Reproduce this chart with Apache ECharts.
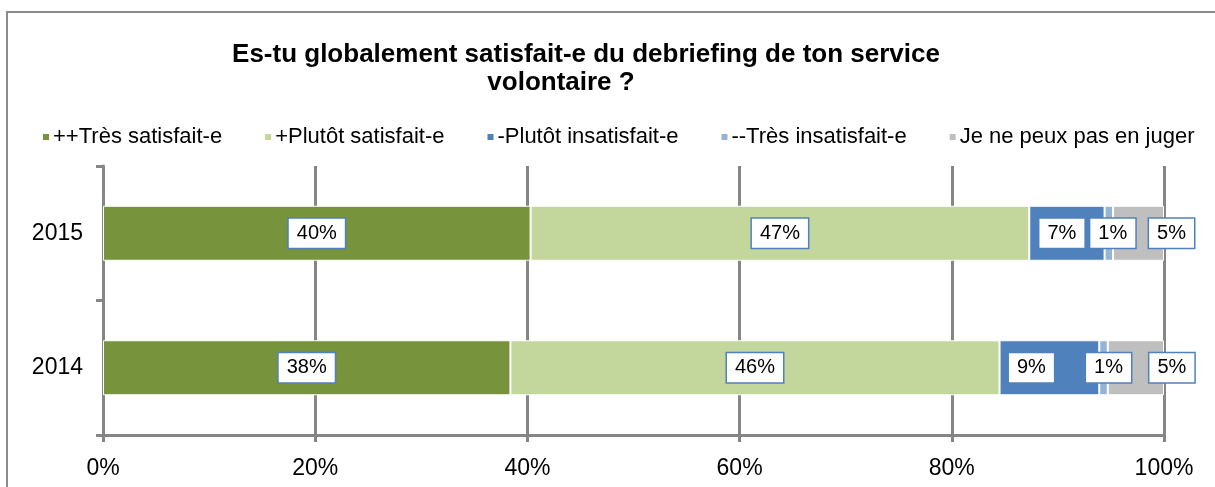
<!DOCTYPE html>
<html>
<head>
<meta charset="utf-8">
<script src="https://cdn.jsdelivr.net/npm/echarts@6/dist/echarts.min.js"></script>
<style>html,body{margin:0;padding:0;background:#fff;}#c{width:1215px;height:487px;}</style>
</head>
<body>
<div id="c"></div>
<script>
var titleLine1 = 'Es-tu globalement satisfait-e du debriefing de ton service';
var titleLine2 = 'volontaire ?';
var categories = ['2015', '2014'];
var seriesNames = ['++Très satisfait-e', '+Plutôt satisfait-e', '-Plutôt insatisfait-e', '--Très insatisfait-e', 'Je ne peux pas en juger'];
var tresSatisfait = [40.3, 38.4];
var plutotSatisfait = [47.0, 46.1];
var plutotInsatisfait = [7.1, 9.4];
var tresInsatisfait = [0.8, 0.8];
var nePeuxPasJuger = [4.8, 5.3];
var xTicks = [0, 20, 40, 60, 80, 100];

var allValues = [tresSatisfait, plutotSatisfait, plutotInsatisfait, tresInsatisfait, nePeuxPasJuger];
var colors = ['#77933C', '#C3D69B', '#4F81BD', '#95B3D7', '#BFBFBF'];
// label offsets (style only)
var labelOffsets = [
  [[0, 0], [0, 0]],
  [[0, 0], [0, 0]],
  [[-5, 0], [-18, 0]],
  [[4, 0], [5, 0]],
  [[33, 0], [36, 0]]
];
var FONT = '"Liberation Sans", Arial, sans-serif';

var series = seriesNames.map(function (name, si) {
  return {
    name: name,
    type: 'bar',
    stack: 'total',
    barWidth: 55,
    itemStyle: { color: colors[si], borderColor: '#ffffff', borderWidth: 1 },
    label: {
      show: true,
      position: 'inside',
      formatter: function (p) { return Math.round(p.value) + '%'; },
      color: '#000',
      fontFamily: FONT,
      fontSize: 20,
      backgroundColor: '#ffffff',
      borderColor: '#4F81BD',
      borderWidth: 1.5,
      padding: [5, 8, 4, 8]
    },
    data: allValues[si].map(function (v, ci) {
      return { value: v, label: { offset: labelOffsets[si][ci] } };
    })
  };
});

var chart = echarts.init(document.getElementById('c'));
chart.setOption({
  backgroundColor: '#ffffff',
  animation: false,
  graphic: [{
    type: 'rect',
    shape: { x: 7, y: 12, width: 1400, height: 700 },
    style: { fill: 'none', stroke: '#8c8c8c', lineWidth: 2 },
    silent: true,
    z: -10
  }],
  title: [{
    text: titleLine1,
    left: 581, top: 37, textAlign: 'center',
    textStyle: { fontFamily: FONT, fontWeight: 'bold', fontSize: 26, color: '#000' }
  }, {
    text: titleLine2,
    left: 556, top: 65, textAlign: 'center',
    textStyle: { fontFamily: FONT, fontWeight: 'bold', fontSize: 26, color: '#000' }
  }],
  legend: {
    data: seriesNames,
    top: 121,
    left: 36,
    icon: 'rect',
    itemWidth: 8,
    itemHeight: 8,
    itemGap: 41,
    textStyle: { fontFamily: FONT, fontSize: 22, color: '#000', padding: [0, 0, 0, -2] }
  },
  grid: { left: 103, right: 51, top: 166, bottom: 52, containLabel: false },
  xAxis: {
    type: 'value',
    min: 0, max: 100, interval: 20,
    axisLine: { show: true, lineStyle: { color: '#868686', width: 3 } },
    axisTick: { show: true, length: 7, lineStyle: { color: '#868686', width: 3 } },
    splitLine: { show: true, lineStyle: { color: '#868686', width: 3 } },
    axisLabel: {
      margin: 22,
      fontFamily: FONT, fontSize: 23, color: '#000',
      formatter: function (v) { return xTicks.indexOf(v) >= 0 ? v + '%' : ''; }
    }
  },
  yAxis: {
    type: 'category',
    data: categories,
    inverse: true,
    axisLine: { show: true, lineStyle: { color: '#868686', width: 3 } },
    axisTick: { show: true, length: 7, lineStyle: { color: '#868686', width: 3 } },
    axisLabel: { margin: 20, fontFamily: FONT, fontSize: 23, color: '#000' }
  },
  series: series
});
</script>
</body>
</html>
